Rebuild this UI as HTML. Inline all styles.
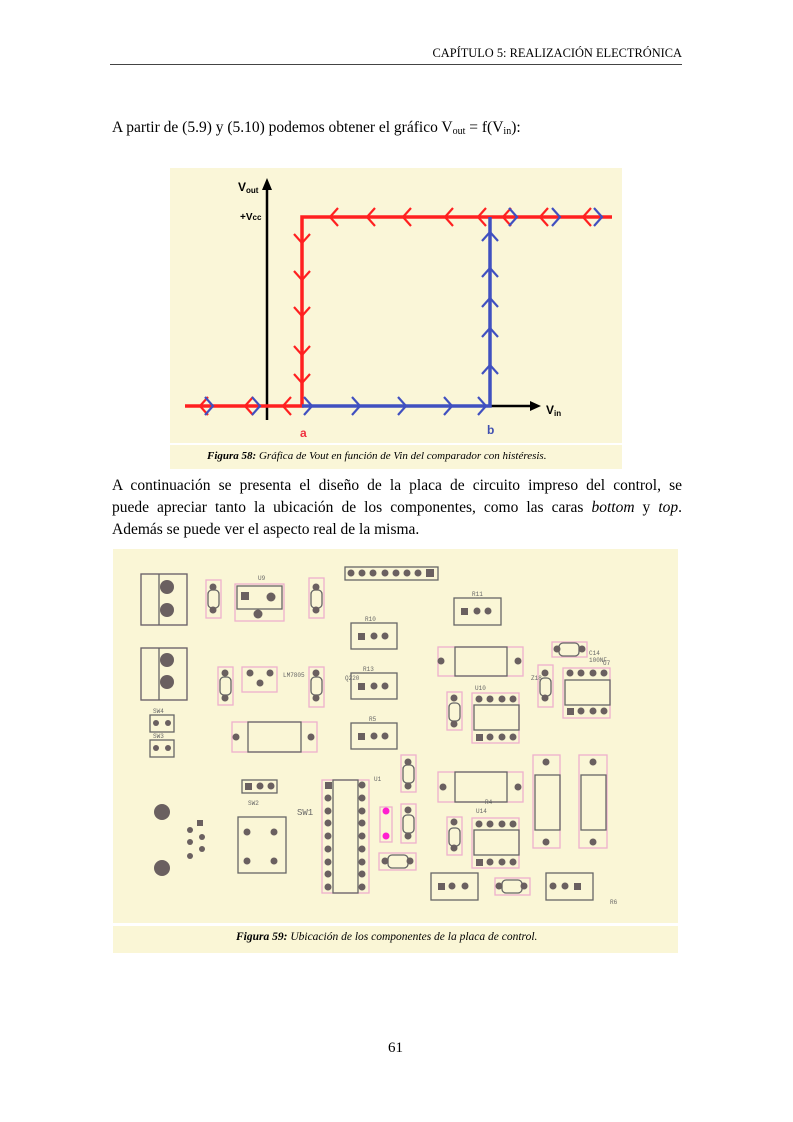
<!DOCTYPE html>
<html><head><meta charset="utf-8"><style>
body{margin:0;background:#fff;width:793px;height:1122px;position:relative;overflow:hidden;font-family:"Liberation Serif",serif;color:#000}
.t{position:absolute;white-space:nowrap}
.j{position:absolute;left:112px;width:570px;font-size:15.5px;text-align:justify;text-align-last:justify;white-space:nowrap}
sub{font-size:10px;vertical-align:-2px}
</style></head><body>
<div class="t" style="right:111px;top:46px;font-size:12.4px">CAPÍTULO 5: REALIZACIÓN ELECTRÓNICA</div>
<div style="position:absolute;left:110px;top:64px;width:572px;border-top:1px solid #444"></div>
<div class="t" style="left:112px;top:119px;font-size:15.5px">A partir de (5.9) y (5.10) podemos obtener el gráfico V<sub>out</sub> = f(V<sub>in</sub>):</div>

<div style="position:absolute;left:170px;top:168px;width:452px;height:275px;background:#faf6d8"></div>
<div style="position:absolute;left:170px;top:445px;width:452px;height:24px;background:#faf6d8"></div>
<div class="t" style="left:207px;top:450px;font-size:11px;font-style:italic"><b>Figura 58:</b> Gráfica de Vout en función de Vin del comparador con histéresis.</div>

<div class="j" style="top:477px">A continuación se presenta el diseño de la placa de circuito impreso del control, se</div>
<div class="j" style="top:499px">puede apreciar tanto la ubicación de los componentes, como las caras <i>bottom</i> y <i>top</i>.</div>
<div class="t" style="left:112px;top:521px;font-size:15.5px">Además se puede ver el aspecto real de la misma.</div>

<div style="position:absolute;left:113px;top:549px;width:565px;height:374px;background:#faf6d6"></div>
<div style="position:absolute;left:113px;top:926px;width:565px;height:27px;background:#faf6d6"></div>
<div class="t" style="left:236px;top:931px;font-size:11.5px;font-style:italic"><b>Figura 59:</b> Ubicación de los componentes de la placa de control.</div>

<div class="t" style="left:388px;top:1040px;font-size:15px">61</div>

<svg width="793" height="1122" style="position:absolute;left:0;top:0" xmlns="http://www.w3.org/2000/svg">
<defs>
<g id="cl"><polyline points="8,-9 0,0 8,9" fill="none" stroke-width="2.2"/></g>
<g id="cr"><polyline points="-8,-9 0,0 -8,9" fill="none" stroke-width="2.2"/></g>
<g id="cd"><polyline points="-8,-9 0,0 8,-9" fill="none" stroke-width="2.2"/></g>
<g id="cu"><polyline points="-8,9 0,0 8,9" fill="none" stroke-width="2.2"/></g>
</defs>
<line x1="267" y1="186" x2="267" y2="420" stroke="#000" stroke-width="2.5"/>
<polygon points="267,178 262,190 272,190" fill="#000"/>
<line x1="490" y1="406" x2="533" y2="406" stroke="#000" stroke-width="2.5"/>
<polygon points="541,406 530,401 530,411" fill="#000"/>
<text x="238" y="191" font-family="Liberation Sans" font-weight="bold" font-size="12">V<tspan font-size="8" dy="2">out</tspan></text>
<text x="240" y="220" font-family="Liberation Sans" font-weight="bold" font-size="10">+V<tspan font-size="8">cc</tspan></text>
<text x="546" y="414" font-family="Liberation Sans" font-weight="bold" font-size="12">V<tspan font-size="8" dy="2">in</tspan></text>
<text x="300" y="437" font-family="Liberation Sans" font-weight="bold" font-size="12" fill="#f03040">a</text>
<text x="487" y="434" font-family="Liberation Sans" font-weight="bold" font-size="12" fill="#4050b0">b</text>
<g stroke="#ff2020" fill="none">
<polyline points="612,217 302,217 302,406 185,406" stroke-width="3.5"/>
<g stroke="#ff2020">
<use href="#cl" x="330" y="217"/><use href="#cl" x="367" y="217"/><use href="#cl" x="403" y="217"/><use href="#cl" x="445" y="217"/><use href="#cl" x="478" y="217"/><use href="#cl" x="503" y="217"/><use href="#cl" x="540" y="217"/><use href="#cl" x="583" y="217"/>
<use href="#cd" x="302" y="243"/><use href="#cd" x="302" y="280"/><use href="#cd" x="302" y="316"/><use href="#cd" x="302" y="355"/><use href="#cd" x="302" y="383"/>
<use href="#cl" x="200" y="406"/><use href="#cl" x="245" y="406"/><use href="#cl" x="283" y="406"/>
</g></g>
<g stroke="#4050c0" fill="none">
<polyline points="302,406 490,406 490,217" stroke-width="3.5"/>
<use href="#cr" x="517" y="217"/><use href="#cr" x="560" y="217"/><use href="#cr" x="602" y="217"/>
<use href="#cu" x="490" y="232"/><use href="#cu" x="490" y="268"/><use href="#cu" x="490" y="298"/><use href="#cu" x="490" y="328"/><use href="#cu" x="490" y="365"/>
<use href="#cr" x="213" y="406"/><use href="#cr" x="260" y="406"/>
<use href="#cr" x="312" y="406"/><use href="#cr" x="360" y="406"/><use href="#cr" x="406" y="406"/><use href="#cr" x="452" y="406"/><use href="#cr" x="486" y="406"/>
</g>

<g fill="none" stroke-width="1.3">
<g stroke="#eeb0cc">
<rect x="206" y="580" width="15" height="38"/><rect x="309" y="578" width="15" height="40"/><rect x="235" y="584" width="49" height="37"/>
<rect x="218" y="667" width="15" height="38"/><rect x="242" y="667" width="35" height="25"/><rect x="309" y="667" width="15" height="40"/>
<rect x="232" y="722" width="85" height="30"/><rect x="438" y="647" width="85" height="29"/><rect x="438" y="772" width="85" height="30"/>
<rect x="552" y="642" width="35" height="15"/><rect x="538" y="665" width="15" height="42"/><rect x="563" y="668" width="47" height="50"/>
<rect x="447" y="692" width="15" height="38"/><rect x="472" y="693" width="47" height="50"/><rect x="472" y="818" width="47" height="50"/>
<rect x="447" y="817" width="15" height="38"/><rect x="401" y="755" width="15" height="37"/><rect x="401" y="804" width="15" height="39"/>
<rect x="379" y="853" width="37" height="17"/><rect x="322" y="780" width="47" height="113"/><rect x="380" y="807" width="12" height="35"/>
<rect x="533" y="755" width="27" height="93"/><rect x="579" y="755" width="28" height="93"/><rect x="495" y="878" width="35" height="17"/>
<rect x="141" y="574" width="46" height="51"/><rect x="141" y="648" width="46" height="52"/>
</g>
<g stroke="#666">
<rect x="141" y="574" width="46" height="51"/><line x1="159" y1="574" x2="159" y2="625"/>
<rect x="141" y="648" width="46" height="52"/><line x1="159" y1="648" x2="159" y2="700"/>
<rect x="208" y="590" width="11" height="18" rx="4"/><rect x="311" y="590" width="11" height="18" rx="4"/>
<rect x="237" y="586" width="45" height="23"/>
<rect x="345" y="567" width="93" height="13"/>
<rect x="454" y="598" width="47" height="27"/><rect x="351" y="623" width="46" height="26"/><rect x="351" y="673" width="46" height="26"/><rect x="351" y="723" width="46" height="26"/>
<rect x="455" y="647" width="52" height="29"/><rect x="248" y="722" width="53" height="30"/><rect x="455" y="772" width="52" height="30"/>
<rect x="559" y="643" width="20" height="13" rx="4"/><rect x="540" y="678" width="11" height="18" rx="4"/>
<rect x="565" y="680" width="45" height="25"/><rect x="474" y="705" width="45" height="25"/><rect x="474" y="830" width="45" height="25"/>
<rect x="449" y="703" width="11" height="18" rx="4"/><rect x="449" y="828" width="11" height="18" rx="4"/><rect x="220" y="677" width="11" height="18" rx="4"/><rect x="311" y="677" width="11" height="18" rx="4"/>
<rect x="403" y="765" width="11" height="18" rx="4"/><rect x="403" y="815" width="11" height="18" rx="4"/><rect x="388" y="855" width="20" height="13" rx="4"/>
<rect x="150" y="715" width="24" height="17"/><rect x="150" y="740" width="24" height="17"/><rect x="242" y="780" width="35" height="13"/>
<rect x="238" y="817" width="48" height="56"/>
<rect x="333" y="780" width="25" height="113"/>
<rect x="535" y="775" width="25" height="55"/><rect x="581" y="775" width="25" height="55"/>
<rect x="431" y="873" width="47" height="27"/><rect x="546" y="873" width="47" height="27"/><rect x="502" y="880" width="20" height="13" rx="4"/>
</g>
</g>
<g fill="#6a6060">
<circle cx="167" cy="587" r="7"/><circle cx="167" cy="610" r="7"/><circle cx="167" cy="660" r="7"/><circle cx="167" cy="682" r="7"/>
<circle cx="213" cy="587" r="3.5"/><circle cx="213" cy="610" r="3.5"/><circle cx="316" cy="587" r="3.5"/><circle cx="316" cy="610" r="3.5"/>
<rect x="241" y="592" width="8" height="8"/><circle cx="271" cy="597" r="4.5"/><circle cx="258" cy="614" r="4.5"/>
<circle cx="351" cy="573" r="3.5"/><circle cx="362" cy="573" r="3.5"/><circle cx="373" cy="573" r="3.5"/><circle cx="385" cy="573" r="3.5"/><circle cx="396" cy="573" r="3.5"/><circle cx="407" cy="573" r="3.5"/><circle cx="418" cy="573" r="3.5"/><rect x="426" y="569" width="8" height="8"/>
<rect x="461" y="608" width="7" height="7"/><circle cx="477" cy="611" r="3.5"/><circle cx="488" cy="611" r="3.5"/>
<rect x="358" y="633" width="7" height="7"/><circle cx="374" cy="636" r="3.5"/><circle cx="385" cy="636" r="3.5"/>
<rect x="358" y="683" width="7" height="7"/><circle cx="374" cy="686" r="3.5"/><circle cx="385" cy="686" r="3.5"/>
<rect x="358" y="733" width="7" height="7"/><circle cx="374" cy="736" r="3.5"/><circle cx="385" cy="736" r="3.5"/>
<circle cx="441" cy="661" r="3.5"/><circle cx="518" cy="661" r="3.5"/><circle cx="236" cy="737" r="3.5"/><circle cx="311" cy="737" r="3.5"/><circle cx="443" cy="787" r="3.5"/><circle cx="518" cy="787" r="3.5"/>
<circle cx="557" cy="649" r="3.5"/><circle cx="582" cy="649" r="3.5"/><circle cx="545" cy="673" r="3.5"/><circle cx="545" cy="698" r="3.5"/>
<circle cx="570" cy="673" r="3.5"/><circle cx="581" cy="673" r="3.5"/><circle cx="593" cy="673" r="3.5"/><circle cx="604" cy="673" r="3.5"/>
<rect x="567" y="708" width="7" height="7"/><circle cx="581" cy="711" r="3.5"/><circle cx="593" cy="711" r="3.5"/><circle cx="604" cy="711" r="3.5"/>
<circle cx="479" cy="699" r="3.5"/><circle cx="490" cy="699" r="3.5"/><circle cx="502" cy="699" r="3.5"/><circle cx="513" cy="699" r="3.5"/>
<rect x="476" y="734" width="7" height="7"/><circle cx="490" cy="737" r="3.5"/><circle cx="502" cy="737" r="3.5"/><circle cx="513" cy="737" r="3.5"/>
<circle cx="479" cy="824" r="3.5"/><circle cx="490" cy="824" r="3.5"/><circle cx="502" cy="824" r="3.5"/><circle cx="513" cy="824" r="3.5"/>
<rect x="476" y="859" width="7" height="7"/><circle cx="490" cy="862" r="3.5"/><circle cx="502" cy="862" r="3.5"/><circle cx="513" cy="862" r="3.5"/>
<circle cx="454" cy="698" r="3.5"/><circle cx="454" cy="724" r="3.5"/><circle cx="454" cy="822" r="3.5"/><circle cx="454" cy="848" r="3.5"/>
<circle cx="225" cy="673" r="3.5"/><circle cx="225" cy="698" r="3.5"/><circle cx="316" cy="673" r="3.5"/><circle cx="316" cy="698" r="3.5"/>
<circle cx="250" cy="673" r="3.5"/><circle cx="270" cy="673" r="3.5"/><circle cx="260" cy="683" r="3.5"/>
<circle cx="408" cy="762" r="3.5"/><circle cx="408" cy="786" r="3.5"/><circle cx="408" cy="810" r="3.5"/><circle cx="408" cy="836" r="3.5"/>
<circle cx="385" cy="861" r="3.5"/><circle cx="410" cy="861" r="3.5"/>
<circle cx="156" cy="723" r="3"/><circle cx="168" cy="723" r="3"/><circle cx="156" cy="748" r="3"/><circle cx="168" cy="748" r="3"/>
<rect x="245" y="783" width="7" height="7"/><circle cx="260" cy="786" r="3.5"/><circle cx="271" cy="786" r="3.5"/>
<circle cx="247" cy="832" r="3.5"/><circle cx="274" cy="832" r="3.5"/><circle cx="247" cy="861" r="3.5"/><circle cx="274" cy="861" r="3.5"/>
<circle cx="162" cy="812" r="8"/><circle cx="162" cy="868" r="8"/>
<rect x="197" y="820" width="6" height="6"/><circle cx="190" cy="830" r="3"/><circle cx="202" cy="837" r="3"/><circle cx="190" cy="842" r="3"/><circle cx="202" cy="849" r="3"/><circle cx="190" cy="856" r="3"/>
<rect x="325" y="782" width="7" height="7"/>
<circle cx="328" cy="798" r="3.5"/><circle cx="328" cy="811" r="3.5"/><circle cx="328" cy="823" r="3.5"/><circle cx="328" cy="836" r="3.5"/><circle cx="328" cy="849" r="3.5"/><circle cx="328" cy="862" r="3.5"/><circle cx="328" cy="874" r="3.5"/><circle cx="328" cy="887" r="3.5"/>
<circle cx="362" cy="785" r="3.5"/><circle cx="362" cy="798" r="3.5"/><circle cx="362" cy="811" r="3.5"/><circle cx="362" cy="823" r="3.5"/><circle cx="362" cy="836" r="3.5"/><circle cx="362" cy="849" r="3.5"/><circle cx="362" cy="862" r="3.5"/><circle cx="362" cy="874" r="3.5"/><circle cx="362" cy="887" r="3.5"/>
<circle cx="546" cy="762" r="3.5"/><circle cx="546" cy="842" r="3.5"/><circle cx="593" cy="762" r="3.5"/><circle cx="593" cy="842" r="3.5"/>
<rect x="438" y="883" width="7" height="7"/><circle cx="452" cy="886" r="3.5"/><circle cx="465" cy="886" r="3.5"/>
<circle cx="553" cy="886" r="3.5"/><circle cx="565" cy="886" r="3.5"/><rect x="574" y="883" width="7" height="7"/>
<circle cx="499" cy="886" r="3.5"/><circle cx="524" cy="886" r="3.5"/>
</g>
<circle cx="386" cy="811" r="3.5" fill="#ff20d0"/><circle cx="386" cy="836" r="3.5" fill="#ff20d0"/>
<g font-family="Liberation Mono" font-size="6" fill="#666">
<text x="472" y="596">R11</text><text x="365" y="621">R10</text><text x="363" y="671">R13</text><text x="369" y="721">R5</text>
<text x="283" y="677">LM7805</text><text x="345" y="680">Q220</text><text x="258" y="580">U9</text>
<text x="589" y="655">C14</text><text x="589" y="662">100NF</text><text x="476" y="813">U14</text><text x="475" y="690">U10</text><text x="603" y="665">U7</text>
<text x="248" y="805">SW2</text><text x="297" y="815" font-size="9">SW1</text><text x="153" y="713">SW4</text><text x="153" y="738">SW3</text>
<text x="485" y="804">R4</text><text x="531" y="680">Z18</text><text x="374" y="781">U1</text><text x="610" y="904">R6</text>
</g>
</svg>
</body></html>
